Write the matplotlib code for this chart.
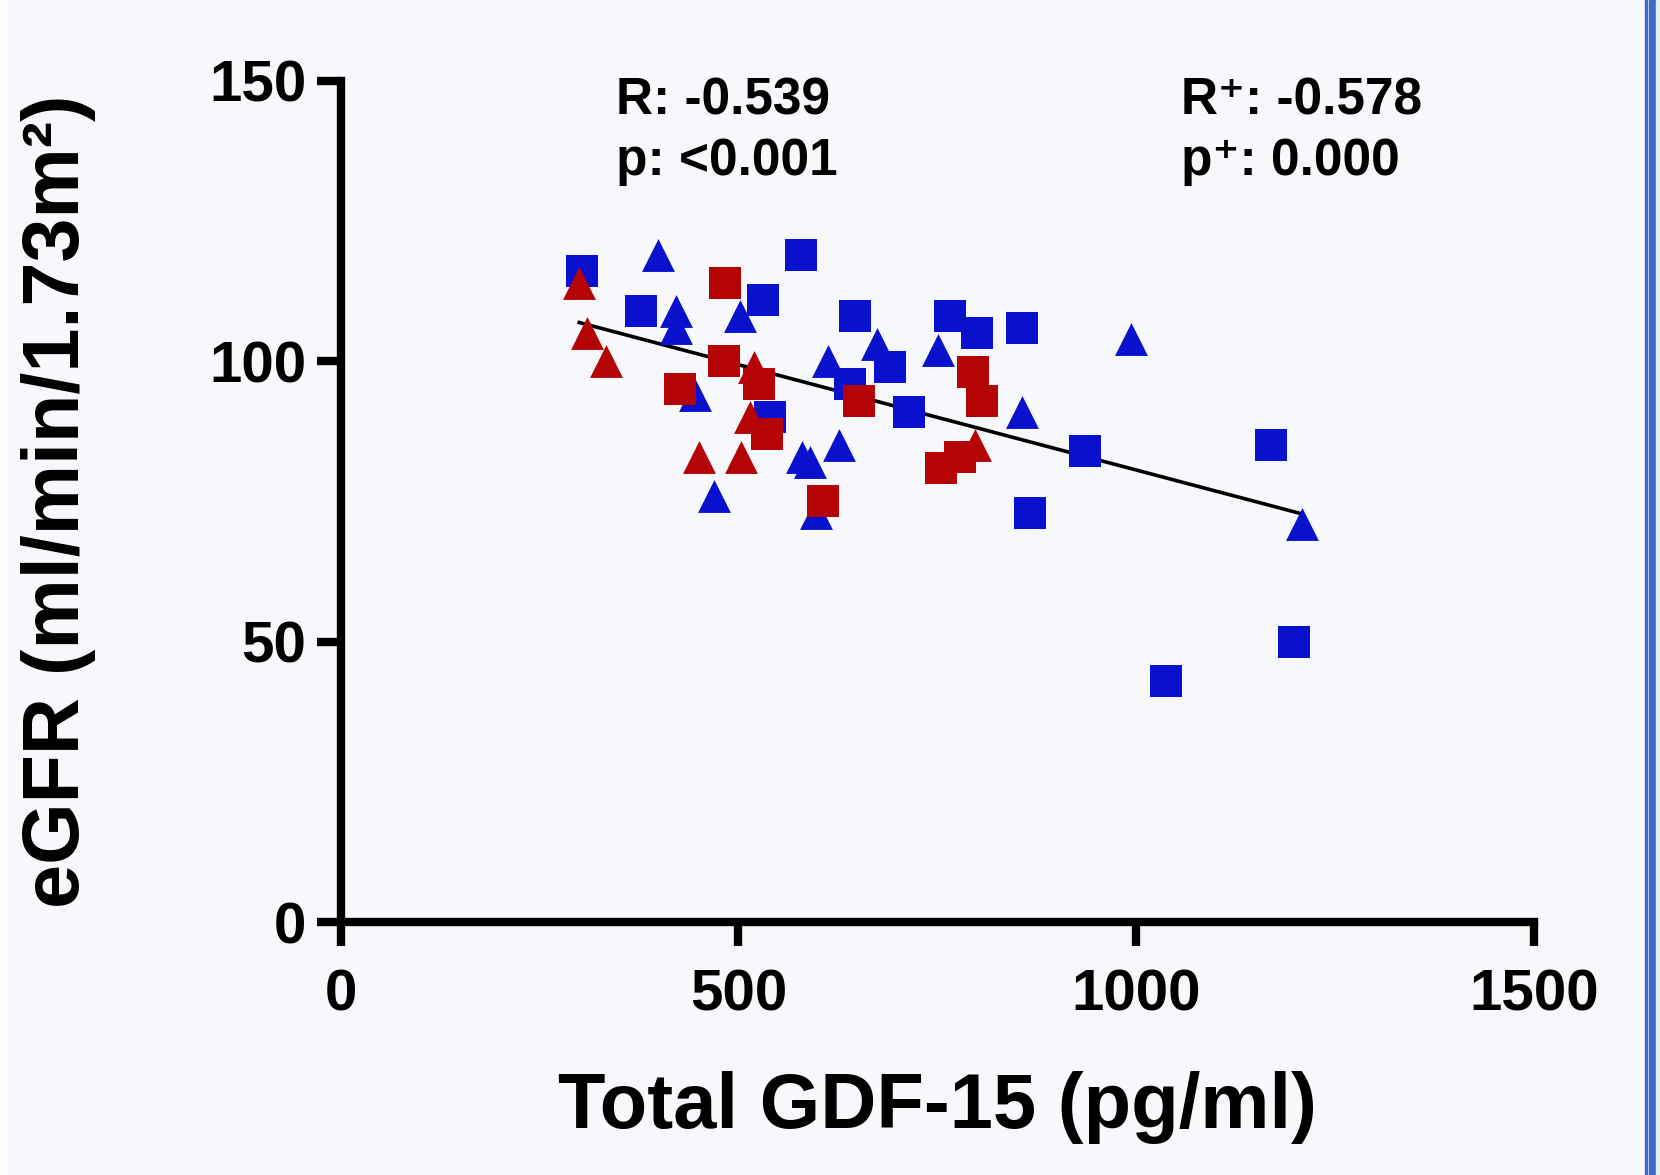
import matplotlib
matplotlib.use("Agg")
import matplotlib.pyplot as plt
from matplotlib.patches import Rectangle

# values
blue_sq_x = [304, 377, 531, 579, 647, 766, 800, 856, 640, 690, 714, 540, 936, 867, 1170, 1038, 1198]
blue_sq_y = [116, 109, 111, 119, 108, 108, 105, 106, 96, 99, 91, 90, 84, 73, 85, 43, 50]

blue_tri_x = [399, 422, 422, 502, 445, 469, 580, 590, 627, 612, 674, 751, 857, 993, 1208, 598]
blue_tri_y = [119, 109, 106, 108, 94, 76, 83, 82, 85, 100, 103, 102, 91, 104, 71, 73]

red_sq_x = [483, 482, 426, 526, 536, 651, 606, 795, 806, 778, 754]
red_sq_y = [114, 100, 95, 96, 87, 93, 75, 98, 93, 83, 81]

red_tri_x = [300, 310, 333, 520, 514, 450, 503, 797]
red_tri_y = [114, 105, 100, 99, 90, 83, 83, 85]

fit_x = [300, 1208]
fit_y = [106.9, 72.8]

x_ticks = [0, 500, 1000, 1500]
y_ticks = [0, 50, 100, 150]

stats_left = ["R: -0.539", "p: <0.001"]
stats_right = ["R\u207a: -0.578", "p\u207a: 0.000"]

BLUE = "#0a11cc"
RED = "#b40406"
BG = "#f6f8fb"

plt.rcParams["font.family"] = ["Liberation Sans", "DejaVu Sans"]
plt.rcParams["font.weight"] = "bold"

fig = plt.figure(figsize=(16.6, 11.75), dpi=100, facecolor=BG)
ax = fig.add_axes([0.2052, 0.2151, 0.9241 - 0.2052, 0.9313 - 0.2151])
ax.set_facecolor("none")

ax.plot(fit_x, fit_y, color="black", linewidth=2.6, zorder=2)
ax.scatter(blue_sq_x, blue_sq_y, marker="s", s=560, color=BLUE, linewidths=0, zorder=3, clip_on=False)
ax.scatter(blue_tri_x, blue_tri_y, marker="^", s=560, color=BLUE, linewidths=0, zorder=3, clip_on=False)
ax.scatter(red_sq_x, red_sq_y, marker="s", s=560, color=RED, linewidths=0, zorder=4, clip_on=False)
ax.scatter(red_tri_x, red_tri_y, marker="^", s=560, color=RED, linewidths=0, zorder=4, clip_on=False)

ax.set_xlim(0, 1500)
ax.set_ylim(0, 150)
ax.set_xticks(x_ticks)
ax.set_yticks(y_ticks)
for side in ("top", "right"):
    ax.spines[side].set_visible(False)
for side in ("left", "bottom"):
    ax.spines[side].set_linewidth(6)
    ax.spines[side].set_capstyle("projecting")
ax.tick_params(axis="both", direction="out", length=17.5, width=6, labelsize=42)
ax.tick_params(axis="x", pad=16)
ax.tick_params(axis="y", pad=7)

ax.set_xlabel("Total GDF-15 (pg/ml)", fontsize=56, fontweight="bold")
ax.set_ylabel("eGFR (ml/min/1.73m\u00b2)", fontsize=57, fontweight="bold")
ax.xaxis.set_label_coords(0.5, -0.177)
ax.yaxis.set_label_coords(-0.205, 0.5)

for i, (left, right) in enumerate(zip(stats_left, stats_right)):
    y = 143.9 - 10.7 * i
    ax.text(345.7, y, left, fontsize=37, fontweight="bold", va="baseline")
    ax.text(1055.9, y, right, fontsize=37, fontweight="bold", va="baseline")

# frame lines at the right edge of the image
fig.patches.append(Rectangle((0, 0), 7 / 1660, 1, transform=fig.transFigure, color="#fbfcfd", zorder=0))
fig.patches.append(Rectangle((1645 / 1660, 0), 2 / 1660, 1, transform=fig.transFigure, color="#3a6bc8"))
fig.patches.append(Rectangle((1649 / 1660, 0), 7 / 1660, 1, transform=fig.transFigure, color="#3a6bc8"))
fig.patches.append(Rectangle((1656 / 1660, 0), 4 / 1660, 1, transform=fig.transFigure, color="#e6ecf7"))

fig.savefig("out.png", dpi=100, facecolor=BG)
